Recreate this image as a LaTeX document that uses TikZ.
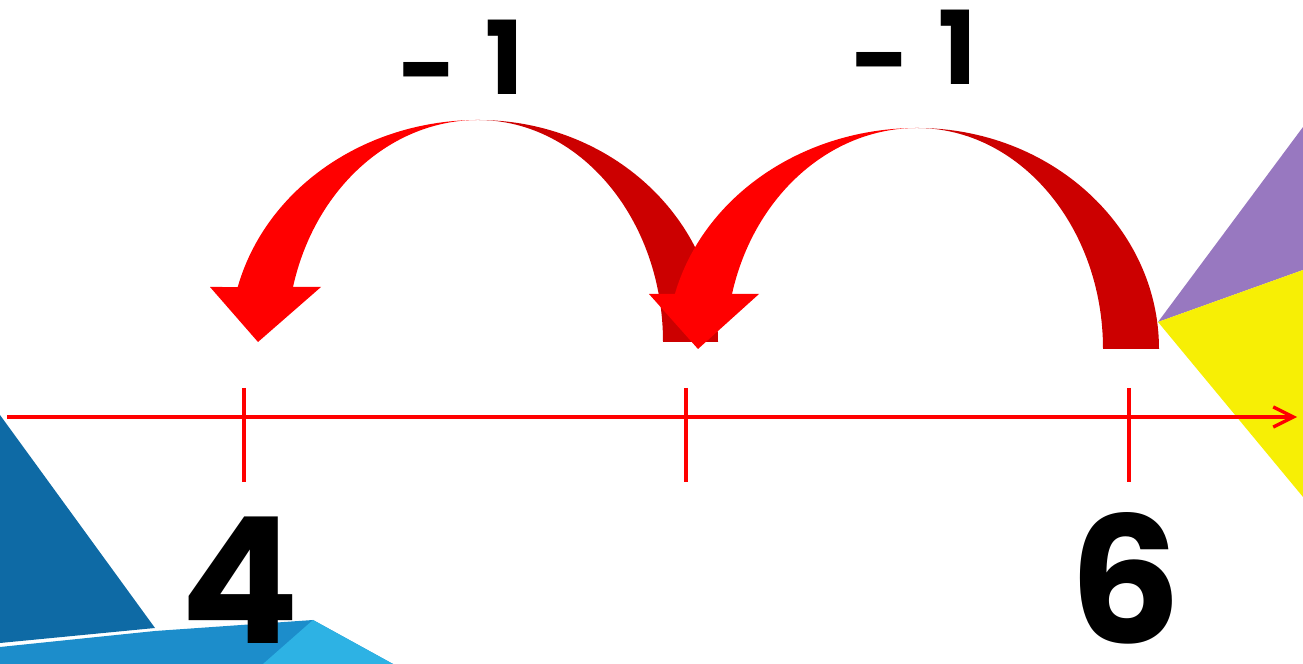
\documentclass[tikz,border=0pt]{standalone}
\usepackage{fontspec}
\newfontfamily\roundfont{Poppins}
\definecolor{hopred}{HTML}{FF0000}
\definecolor{hopdark}{HTML}{CC0000}
\definecolor{axisred}{HTML}{FF0000}
\definecolor{bluedeep}{HTML}{0E6AA5}
\definecolor{bluemid}{HTML}{1C8DCB}
\definecolor{bluelite}{HTML}{2DB2E4}
\definecolor{lilac}{HTML}{9878C0}
\definecolor{lemon}{HTML}{F7EF05}
\usetikzlibrary{arrows.meta}

\begin{document}
\begin{tikzpicture}[x=0.01cm, y=0.01cm,
  axis/.style={draw=axisred, line width=0.95pt, -{Straight Barb[length=5.7pt,width=5.7pt]}},
  tickln/.style={draw=axisred, line width=1.1pt},
  front/.style={fill=hopred},
  back/.style={fill=hopdark},
  numlbl/.style={font=\roundfont\bfseries\fontsize{50}{55}\selectfont, inner sep=0pt},
  hoplbl/.style={font=\roundfont\bfseries\fontsize{29}{34}\selectfont, inner sep=0pt},
]
\useasboundingbox (0,0) rectangle (1303,664);

% corner shapes
\fill[bluedeep] (0,249) -- (155,36) -- (0,21) -- cycle;
\fill[bluemid] (0,17) -- (155,33) -- (313,44) -- (393,0) -- (0,0) -- cycle;
\fill[bluelite] (313,44) -- (393,0) -- (263,0) -- cycle;
\fill[lilac] (1158,342) -- (1303,537) -- (1303,394) -- cycle;
\fill[lemon] (1158,342) -- (1303,394) -- (1303,167) -- cycle;

% number line
\coordinate (lstart) at (7,247);
\coordinate (lend) at (1297,247);
\draw[axis] (lstart) -- (lend);
\foreach \px/\nm in {244/tfour, 686/tfive, 1129/tsix} {
  \coordinate (\nm) at (\px,247);
  \draw[tickln] (\nm) ++(0,29) -- ++(0,-94);
}

% hop 5 -> 4
\fill[back] (478,544) arc[start angle=90, end angle=0, x radius=240, y radius=222]
  -- (663,322) arc[start angle=0, end angle=90, x radius=185, y radius=222] -- cycle;
\fill[front] (478,544) arc[start angle=90, end angle=165.66, x radius=248, y radius=222]
  -- (210,377) -- (258,322) -- (321,377) -- (293,377)
  arc[start angle=165.66, end angle=90, x radius=191, y radius=222] -- cycle;

% hop 6 -> 5
\fill[back] (917,536) arc[start angle=90, end angle=0, x radius=242, y radius=221]
  -- (1103,315) arc[start angle=0, end angle=90, x radius=186, y radius=221] -- cycle;
\fill[front] (917,536) arc[start angle=90, end angle=165.59, x radius=250, y radius=221]
  -- (649,370) -- (698,315) -- (759,370) -- (732,370)
  arc[start angle=165.59, end angle=90, x radius=191, y radius=221] -- cycle;

\node[hoplbl] (hopa) at (461,601) {\raisebox{-3pt}{-}\kern8pt1};
\node[hoplbl] (hopb) at (914,611) {\raisebox{-3pt}{-}\kern8pt1};

\node[numlbl] (nfour) at (240,84) {4};
\node[numlbl] (nsix) at (1125,86) {6};
\end{tikzpicture}
\end{document}
